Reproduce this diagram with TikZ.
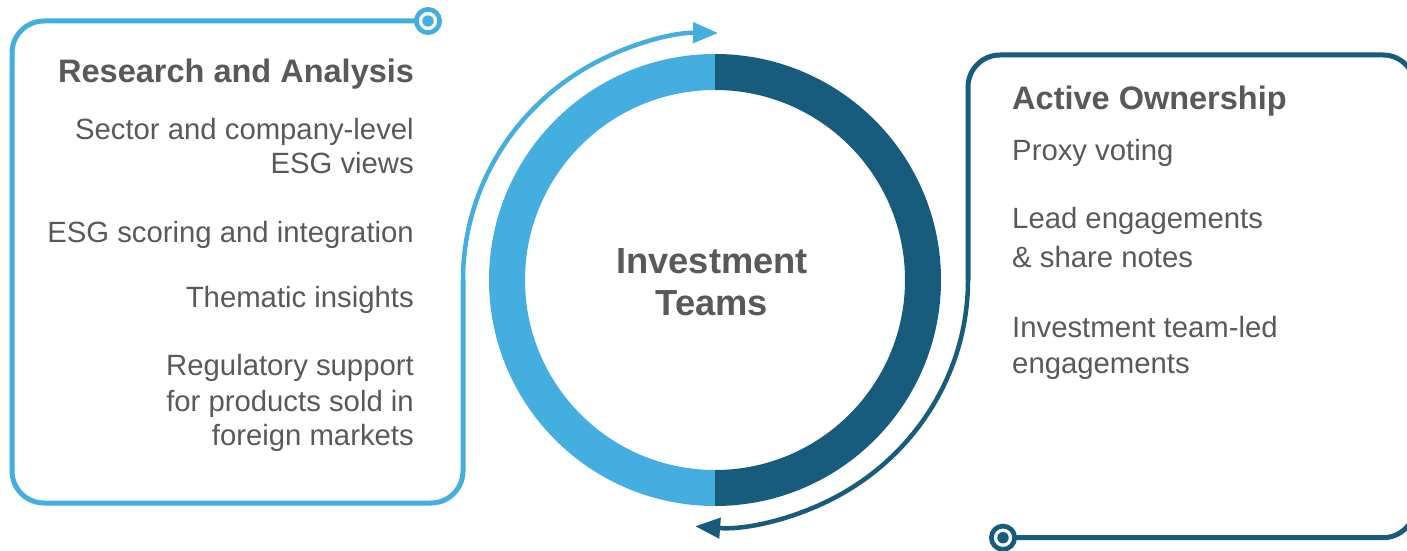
\documentclass[tikz,border=0pt]{standalone}
\usepackage{fontspec}
\setmainfont{Liberation Sans}
\usetikzlibrary{arrows.meta}
\definecolor{lblue}{HTML}{45AEE0}
\definecolor{dblue}{HTML}{175C7C}
\definecolor{txt}{HTML}{595959}
\tikzset{
  boxline/.style={line width=5pt},
  arcline/.style={line width=4.5pt},
  head/.style={font=\fontsize{32.5}{38}\selectfont\bfseries, text=txt, inner sep=0pt},
  itemL/.style={font=\fontsize{29.3}{34}\selectfont, text=txt, inner sep=0pt, anchor=base east},
  itemR/.style={font=\fontsize{29.3}{34}\selectfont, text=txt, inner sep=0pt, anchor=base west},
  centre/.style={font=\fontsize{36.3}{42}\selectfont\bfseries, text=txt, inner sep=0pt, anchor=base},
}
\begin{document}
\begin{tikzpicture}[x=1pt,y=1pt]
\useasboundingbox (0,0) rectangle (1407,550);
% ring
\coordinate (c) at (715,270);
\fill[lblue] (715,496) arc[start angle=90,end angle=270,radius=226] -- (715,80) arc[start angle=270,end angle=90,radius=190] -- cycle;
\fill[dblue] (715,496) arc[start angle=90,end angle=-90,radius=226] -- (715,80) arc[start angle=-90,end angle=90,radius=190] -- cycle;
% left box
\coordinate (lknob) at (428,529);
\coordinate (ljoin) at (463,270);
\draw[lblue, boxline, rounded corners=32] (lknob) -- (12,529) -- (12,47) -- (463,47) -- (ljoin);
\draw[lblue, arcline, -{Triangle[length=25pt,width=20pt]}] (ljoin) arc[start angle=180, end angle=89.3, x radius=252, y radius=247];
\draw[lblue, line width=4.7pt, fill=white] (lknob) circle[radius=11.65];
\fill[lblue] (lknob) circle[radius=5.7];
% right box
\coordinate (rknob) at (1003,12.3);
\coordinate (rjoin) at (968,270);
\draw[dblue, boxline, rounded corners=32] (rknob) -- (1415,12.3) -- (1415,495) -- (968,495) -- (rjoin);
\draw[dblue, arcline, -{Triangle[length=25pt,width=20pt]}] (rjoin) arc[start angle=0, end angle=-94.5, x radius=253, y radius=247];
\draw[dblue, line width=4.7pt, fill=white] (rknob) circle[radius=11.65];
\fill[dblue] (rknob) circle[radius=5.7];
% centre text
\node[centre] (inv) at (712,277) {Investment};
\node[centre] (teams) at (712,235) {Teams};
% left texts
\node[head, anchor=base west] (lt) at (58,467) {Research and Analysis};
\node[itemL] (l1) at (414,410) {Sector and company-level};
\node[itemL] (l2) at (414,377) {ESG views};
\node[itemL] (l3) at (414,308) {ESG scoring and integration};
\node[itemL] (l4) at (414,243) {Thematic insights};
\node[itemL] (l5) at (414,175) {Regulatory support};
\node[itemL] (l6) at (414,139) {for products sold in};
\node[itemL] (l7) at (414,105) {foreign markets};
% right texts
\node[head, anchor=base west] (rt) at (1012,440) {Active Ownership};
\node[itemR] (r1) at (1012,390) {Proxy voting};
\node[itemR] (r2) at (1012,322) {Lead engagements};
\node[itemR] (r3) at (1012,283) {\& share notes};
\node[itemR] (r4) at (1012,213) {Investment team-led};
\node[itemR] (r5) at (1012,177) {engagements};
\end{tikzpicture}
\end{document}
